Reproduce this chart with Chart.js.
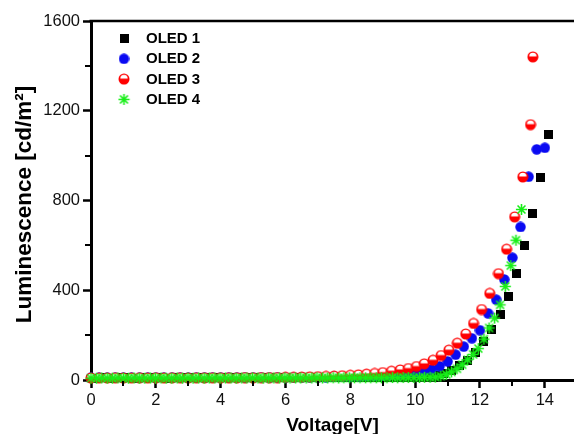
<!DOCTYPE html>
<html>
<head>
<meta charset="utf-8">
<script src="https://cdn.jsdelivr.net/npm/chart.js@4.4.1/dist/chart.umd.min.js"></script>
<style>
  html, body { margin: 0; padding: 0; background: #fff; overflow: hidden; }
  canvas { display: block; }
</style>
</head>
<body>
<canvas id="chart" width="574" height="434"></canvas>
<script>
// ---- data: luminance vs. voltage for four devices ----
const seriesNames = ['OLED 1', 'OLED 2', 'OLED 3', 'OLED 4'];
const xTickValues = [0, 2, 4, 6, 8, 10, 12, 14];
const xMinorTicks = [1, 3, 5, 7, 9, 11, 13];
const yTickValues = [0, 400, 800, 1200, 1600];
const yMinorTicks = [200, 600, 1000, 1400];
const yAxisTitle = 'Luminescence [cd/m²]';

const oled1V = [0.12, 0.37, 0.62, 0.87, 1.12, 1.37, 1.62, 1.87, 2.12, 2.37,
                2.62, 2.87, 3.12, 3.37, 3.62, 3.87, 4.12, 4.37, 4.62, 4.87,
                5.12, 5.37, 5.62, 5.87, 6.12, 6.37, 6.62, 6.87, 7.12, 7.37,
                7.62, 7.87, 8.12, 8.37, 8.62, 8.87, 9.12, 9.37, 9.62, 9.87,
                10.12, 10.37, 10.62, 10.87, 11.12, 11.37, 11.62, 11.87, 12.12, 12.37,
                12.62, 12.87, 13.12, 13.37, 13.62, 13.87, 14.12];
const oled1L = [8, 9, 8, 9, 9, 8, 9, 9, 9, 8,
                9, 9, 9, 9, 9, 9, 9, 10, 9, 9,
                9, 10, 9, 10, 10, 10, 10, 10, 10, 11,
                11, 11, 11, 12, 12, 12, 12, 12, 13, 13,
                14, 17, 22, 31, 44, 63, 89, 124, 171, 223,
                292, 373, 473, 598, 740, 904, 1094];

const oled2V = [0, 0.25, 0.5, 0.75, 1, 1.25, 1.5, 1.75, 2, 2.25,
                2.5, 2.75, 3, 3.25, 3.5, 3.75, 4, 4.25, 4.5, 4.75,
                5, 5.25, 5.5, 5.75, 6, 6.25, 6.5, 6.75, 7, 7.25,
                7.5, 7.75, 8, 8.25, 8.5, 8.75, 9, 9.25, 9.5, 9.75,
                10, 10.25, 10.5, 10.75, 11, 11.25, 11.5, 11.75, 12, 12.25,
                12.5, 12.75, 13, 13.25, 13.5, 13.75, 14];
const oled2L = [9, 9, 10, 9, 9, 10, 9, 10, 9, 10,
                9, 10, 10, 10, 9, 10, 10, 10, 10, 10,
                10, 11, 10, 11, 11, 11, 12, 12, 13, 13,
                14, 15, 16, 17, 18, 19, 21, 23, 26, 29,
                33, 39, 47, 61, 83, 113, 149, 186, 222, 297,
                358, 448, 545, 682, 906, 1028, 1035];

const oled3V = [0, 0.25, 0.5, 0.75, 1, 1.25, 1.5, 1.75, 2, 2.25,
                2.5, 2.75, 3, 3.25, 3.5, 3.75, 4, 4.25, 4.5, 4.75,
                5, 5.25, 5.5, 5.75, 6, 6.25, 6.5, 6.75, 7, 7.25,
                7.5, 7.75, 8, 8.25, 8.5, 8.75, 9.0, 9.27, 9.54, 9.79,
                10.04, 10.28, 10.55, 10.80, 11.04, 11.30, 11.56, 11.80, 12.05, 12.30,
                12.57, 12.82, 13.07, 13.32, 13.56, 13.63];
const oled3L = [9, 9, 9, 10, 9, 9, 10, 9, 10, 9,
                10, 10, 9, 10, 10, 10, 10, 10, 10, 11,
                10, 11, 11, 11, 12, 12, 13, 14, 15, 16,
                17, 19, 21, 23, 26, 29, 33, 39, 45, 51,
                60, 72, 88, 109, 133, 164, 205, 252, 314, 386,
                474, 583, 727, 905, 1138, 1440];

const oled4V = [0, 0.17, 0.33, 0.50, 0.66, 0.83, 1.00, 1.16, 1.33, 1.49,
                1.66, 1.83, 1.99, 2.16, 2.32, 2.49, 2.66, 2.82, 2.99, 3.15,
                3.32, 3.49, 3.65, 3.82, 3.98, 4.15, 4.32, 4.48, 4.65, 4.81,
                4.98, 5.15, 5.31, 5.48, 5.64, 5.81, 5.98, 6.14, 6.31, 6.47,
                6.64, 6.81, 6.97, 7.14, 7.30, 7.47, 7.64, 7.80, 7.97, 8.13,
                8.30, 8.47, 8.63, 8.80, 8.96, 9.13, 9.30, 9.46, 9.63, 9.79,
                9.96, 10.13, 10.29, 10.46, 10.62, 10.79, 10.96, 11.12, 11.29, 11.45,
                11.62, 11.79, 11.95, 12.12, 12.28, 12.45, 12.62, 12.78, 12.95, 13.11,
                13.28];
const oled4L = [8, 8, 9, 8, 8, 9, 8, 8, 9, 8,
                8, 9, 8, 9, 8, 8, 9, 8, 9, 8,
                9, 8, 9, 9, 8, 9, 9, 8, 9, 9,
                9, 9, 8, 9, 9, 9, 9, 9, 9, 9,
                9, 9, 10, 9, 9, 10, 9, 10, 10, 10,
                10, 10, 10, 10, 10, 10, 11, 10, 11, 11,
                11, 11, 12, 12, 13, 17, 25, 36, 50, 68,
                90, 114, 140, 182, 232, 276, 335, 417, 510, 623,
                760];

// ---- marker symbols ----
function makeMarker(size, paint) {
  const c = document.createElement('canvas');
  c.width = size; c.height = size;
  paint(c.getContext('2d'), size / 2);
  return c;
}
const squareMarker = makeMarker(9, (g) => {
  g.fillStyle = '#000';
  g.fillRect(0, 0, 9, 9);
});
const circleMarker = makeMarker(11, (g, m) => {
  g.fillStyle = '#0a0af2';
  g.beginPath(); g.arc(m, m, 5.2, 0, Math.PI * 2); g.fill();
});
const halfMarker = makeMarker(12, (g, m) => {
  g.fillStyle = '#ff0000';
  g.beginPath(); g.arc(m, m, 5.5, 0, Math.PI * 2); g.fill();
  g.fillStyle = '#ffffff';
  g.beginPath(); g.arc(m, m - 0.6, 3.7, Math.PI, Math.PI * 2); g.closePath(); g.fill();
});
const starMarker = makeMarker(13, (g, m) => {
  g.strokeStyle = '#18ee18';
  g.lineWidth = 1.6;
  const r = 5.6, d = r * Math.SQRT1_2;
  g.beginPath();
  g.moveTo(m - r, m); g.lineTo(m + r, m);
  g.moveTo(m, m - r); g.lineTo(m, m + r);
  g.moveTo(m - d, m - d); g.lineTo(m + d, m + d);
  g.moveTo(m - d, m + d); g.lineTo(m + d, m - d);
  g.stroke();
});
const markers = [squareMarker, circleMarker, halfMarker, starMarker];

const toPoints = (xs, ys) => xs.map((v, i) => ({ x: v, y: ys[i] }));
const seriesV = [oled1V, oled2V, oled3V, oled4V];
const seriesL = [oled1L, oled2L, oled3L, oled4L];
const drawOrder = [3, 2, 1, 0]; // OLED 4 on top, OLED 1 underneath

const FONT = '"Liberation Sans", Arial, Helvetica, sans-serif';

// frame line on top, minor ticks, rotated y title and the in-plot legend
const decorations = {
  id: 'decorations',
  afterDraw(chart) {
    const { ctx, chartArea: a, scales: { x, y } } = chart;
    ctx.save();
    ctx.strokeStyle = '#000';
    ctx.lineWidth = 2.5;
    ctx.beginPath();
    ctx.moveTo(a.left - 1.5, a.top);
    ctx.lineTo(chart.width, a.top);
    ctx.stroke();

    ctx.lineWidth = 2;
    ctx.beginPath();
    xMinorTicks.forEach(v => {
      const px = Math.round(x.getPixelForValue(v));
      ctx.moveTo(px, a.bottom + 1);
      ctx.lineTo(px, a.bottom + 6);
    });
    yMinorTicks.forEach(v => {
      const py = Math.round(y.getPixelForValue(v));
      ctx.moveTo(a.left - 1, py);
      ctx.lineTo(a.left - 6, py);
    });
    ctx.stroke();

    // y axis title
    ctx.save();
    ctx.translate(24.5, (a.top + a.bottom) / 2 + 4);
    ctx.rotate(-Math.PI / 2);
    ctx.font = 'bold 22.5px ' + FONT;
    ctx.fillStyle = '#000';
    ctx.textAlign = 'center';
    ctx.textBaseline = 'middle';
    ctx.fillText(yAxisTitle, 0, 0);
    ctx.restore();

    ctx.font = 'bold 15px ' + FONT;
    ctx.fillStyle = '#000';
    ctx.textAlign = 'left';
    ctx.textBaseline = 'middle';
    seriesNames.forEach((name, i) => {
      const ry = 38.5 + i * 20.3;
      const m = markers[i];
      ctx.drawImage(m, 124 - m.width / 2, ry - m.height / 2);
      ctx.fillText(name, 146, ry + 0.5);
    });
    ctx.restore();
  }
};

new Chart(document.getElementById('chart'), {
  type: 'scatter',
  data: {
    datasets: seriesNames.map((name, i) => ({
      label: name,
      data: toPoints(seriesV[i], seriesL[i]),
      pointStyle: markers[i],
      radius: 5,
      hoverRadius: 0,
      order: drawOrder[i],
      clip: false
    }))
  },
  options: {
    responsive: false,
    animation: false,
    events: [],
    layout: { autoPadding: false, padding: { top: 21, right: 0, bottom: 0, left: 0 } },
    plugins: { legend: { display: false }, tooltip: { enabled: false } },
    scales: {
      x: {
        type: 'linear',
        min: 0,
        max: 14.9,
        afterFit: s => { s.height = 54; s.paddingLeft = 0; s.paddingRight = 0; },
        afterBuildTicks: s => { s.ticks = xTickValues.map(v => ({ value: v })); },
        ticks: {
          color: '#111',
          font: { family: FONT, size: 16.5 },
          padding: 3,
          maxRotation: 0,
          autoSkip: false,
          includeBounds: false,
          callback: v => String(v)
        },
        grid: {
          drawOnChartArea: false,
          drawTicks: true,
          tickLength: 8,
          tickWidth: 2.5,
          tickColor: '#000'
        },
        border: { display: true, width: 3, color: '#000' },
        title: {
          display: true,
          text: 'Voltage[V]',
          color: '#000',
          font: { family: FONT, size: 19, weight: 'bold', lineHeight: 0.5 },
          padding: { top: 0, bottom: 3 }
        }
      },
      y: {
        type: 'linear',
        min: 0,
        max: 1600,
        afterFit: s => { s.width = 91; s.paddingTop = 0; s.paddingBottom = 0; },
        afterBuildTicks: s => { s.ticks = yTickValues.map(v => ({ value: v })); },
        ticks: {
          color: '#111',
          font: { family: FONT, size: 16.5 },
          padding: 3,
          autoSkip: false,
          includeBounds: false,
          callback: v => String(v)
        },
        grid: {
          drawOnChartArea: false,
          drawTicks: true,
          tickLength: 8,
          tickWidth: 2.5,
          tickColor: '#000'
        },
        border: { display: true, width: 3, color: '#000' },
        title: { display: false }
      }
    }
  },
  plugins: [decorations]
});
</script>
</body>
</html>
